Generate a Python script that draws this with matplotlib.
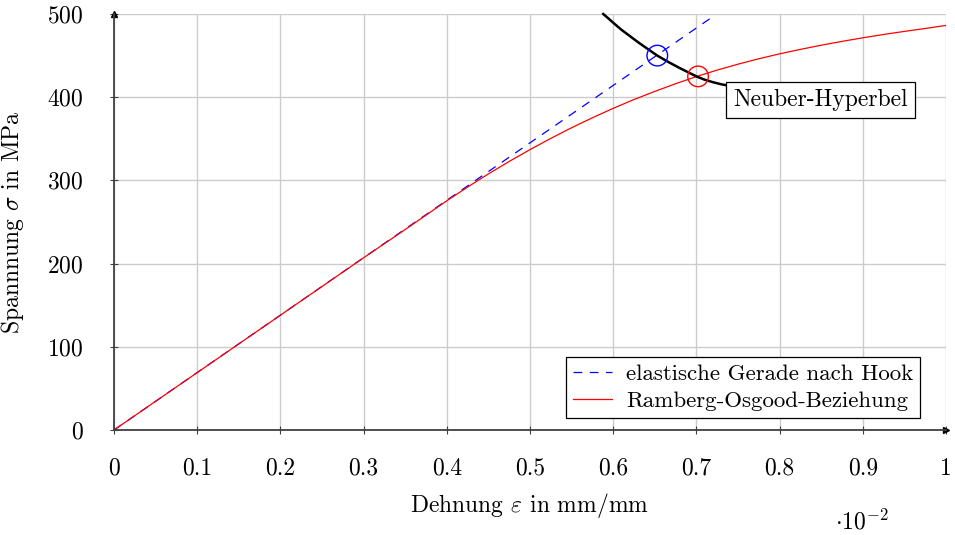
import matplotlib
matplotlib.use("Agg")
import matplotlib.pyplot as plt

plt.rcParams.update({
    'font.family': 'cmr10',
    'mathtext.fontset': 'cm',
    'axes.formatter.use_mathtext': True,
    'font.size': 17,
})

# ── data (x in units of 1e-2 mm/mm, y in MPa) ─────────────────────────
hook_eps = [0.0, 0.72]
hook_sig = [0.0, 497.0]

ro_eps = [0.0, 0.1, 0.2, 0.3, 0.35, 0.4, 0.425, 0.45, 0.475, 0.5, 0.525, 0.55,
          0.575, 0.6, 0.625, 0.65, 0.675, 0.7, 0.725, 0.75, 0.775, 0.8,
          0.825, 0.85, 0.875, 0.9, 0.925, 0.95, 0.975, 1.0]
ro_sig = [0, 69, 138, 207, 241, 275.5, 292, 307.8, 322.8, 337, 350.5, 363.3,
          375.3, 386.6, 397.2, 407, 416.2, 424.8, 432.6, 439.7, 446.2, 452.1,
          457.5, 462.5, 467.1, 471.4, 475.4, 479.1, 482.6, 486.3]

neuber_eps = [0.588, 0.595, 0.60, 0.61, 0.62, 0.63, 0.64, 0.653, 0.665,
              0.68, 0.69, 0.70, 0.71, 0.72, 0.73, 0.738]
neuber_sig = [500, 494, 489.5, 481, 473.5, 466, 459, 450, 443,
              435, 430, 425, 421, 418, 415.5, 414]

pt_hook = (0.653, 450)
pt_ro = (0.702, 425)

xticks = [0, 0.1, 0.2, 0.3, 0.4, 0.5, 0.6, 0.7, 0.8, 0.9, 1.0]
xticklabels = ['0', '0.1', '0.2', '0.3', '0.4', '0.5', '0.6', '0.7', '0.8', '0.9', '1']
yticks = [0, 100, 200, 300, 400, 500]

axis_col = '#404040'

fig = plt.figure(figsize=(9.55, 5.35), dpi=100)
ax = fig.add_axes([114/955, 105/535, 832/955, 416/535])
ax.set_xlim(0, 1)
ax.set_ylim(0, 500)

ax.grid(True, color='#cccccc', linewidth=1.0)
ax.set_axisbelow(True)
ax.set_xticks(xticks)
ax.set_xticklabels(xticklabels)
ax.set_yticks(yticks)
ax.tick_params(direction='inout', length=6, width=0.8, color=axis_col)
ax.tick_params(axis='x', pad=17)
ax.tick_params(axis='y', pad=19)

for s in ['top', 'right']:
    ax.spines[s].set_visible(False)
for s in ['left', 'bottom']:
    ax.spines[s].set_color(axis_col)
    ax.spines[s].set_linewidth(1.3)
ax.plot(1, 0, '>', color='black', markersize=5, transform=ax.transAxes, clip_on=False)
ax.plot(0, 1, '^', color='black', markersize=5, transform=ax.transAxes, clip_on=False)

ax.plot(hook_eps, hook_sig, color='blue', lw=0.9, dashes=(7, 6),
        label='elastische Gerade nach Hook')
ax.plot(ro_eps, ro_sig, color='red', lw=0.9, label='Ramberg-Osgood-Beziehung')
ax.plot(neuber_eps, neuber_sig, color='black', lw=1.8, clip_on=False,
        solid_joinstyle='round')

ax.scatter([pt_hook[0]], [pt_hook[1]], s=220, facecolors='none', edgecolors='blue',
           linewidths=1.0, zorder=5)
ax.scatter([pt_ro[0]], [pt_ro[1]], s=220, facecolors='none', edgecolors='red',
           linewidths=1.0, zorder=5)

ax.text(neuber_eps[-1] + 0.006, neuber_sig[-1] - 4, 'Neuber-Hyperbel', ha='left', va='top',
        bbox=dict(boxstyle='square,pad=0.3', facecolor='white', edgecolor='black',
                  linewidth=0.9), zorder=6)

leg = ax.legend(loc='lower right', bbox_to_anchor=(0.969, 0.029), borderaxespad=0,
                fancybox=False, framealpha=1, edgecolor='black', handlelength=1.7,
                borderpad=0.3, labelspacing=0.3, handletextpad=0.6, fontsize=16.5)
leg.get_frame().set_linewidth(0.9)

ax.set_xlabel(r'Dehnung $\varepsilon$ in mm/mm')
ax.set_ylabel(r'Spannnung $\sigma$ in MPa')
ax.xaxis.set_label_coords(0.5, -0.147)
ax.yaxis.set_label_coords(-0.106, 0.5)
fig.text(862/955, 1 - 522/535, r'$\cdot 10^{-2}$', ha='center', va='center')

fig.savefig('out.png', dpi=100)
